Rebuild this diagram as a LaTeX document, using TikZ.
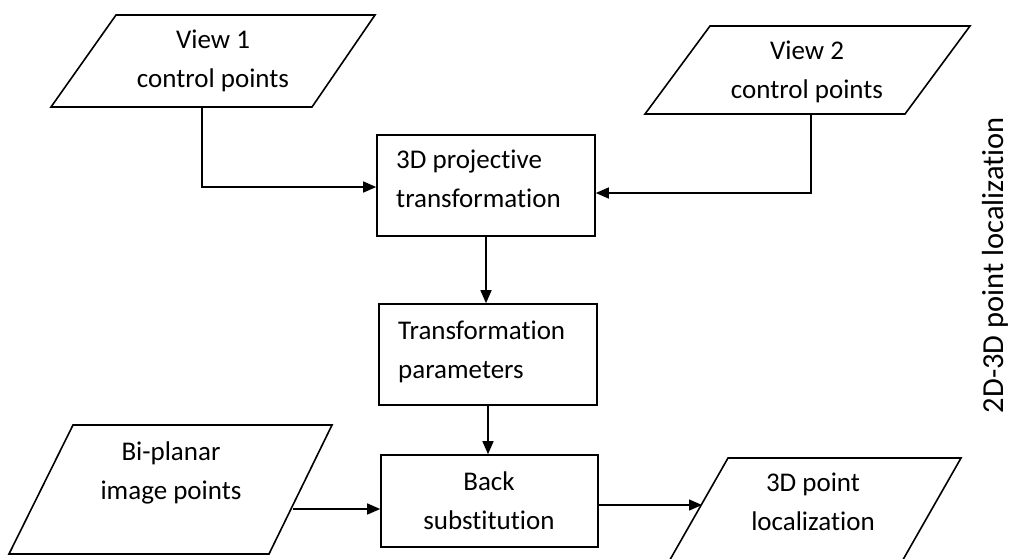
\documentclass[tikz,border=0pt]{standalone}
\usepackage{fontspec}
\setmainfont{Carlito}[Ligatures=NoCommon]
\usetikzlibrary{arrows.meta,calc}
\begin{document}
\begin{tikzpicture}[x=1pt,y=-1pt,
  shapeline/.style={draw=black,line width=1.6pt,line join=miter},
  stepbox/.style={shapeline,rectangle,inner sep=0pt},
  lbl/.style={font=\fontsize{27}{39}\selectfont,inner sep=0pt},
  flow/.style={line width=1.4pt,-{Triangle[length=13pt,width=11pt]}}]
\useasboundingbox (0,0) rectangle (1011,558);

% input parallelograms
\draw[shapeline] (116,15) -- (375,15) -- (312,107) -- (51,107) -- cycle;
\draw[shapeline] (710,26) -- (970,26) -- (905,114) -- (645,114) -- cycle;
\draw[shapeline] (73,425) -- (332,425) -- (269,554) -- (9,554) -- cycle;
\begin{scope}
  \clip (0,0) rectangle (1011,558);
  \draw[shapeline] (728,458) -- (961,458) -- (880,600) -- (647,600) -- cycle;
\end{scope}

% anchor points on the parallelogram edges
\coordinate (v1out) at (202,107);
\coordinate (v2out) at (811,114);
\coordinate (bpout) at (293,509);
\coordinate (locin) at (702,505);

\node[lbl,align=center] (v1) at (213,61) {View 1\\control points};
\node[lbl,align=center] (v2) at (807,72) {View 2\\control points};
\node[lbl,align=center] (bp) at (171,473) {Bi-planar\\image points};
\node[lbl,align=center] (loc) at (813,502) {3D point\\localization};

% processing boxes
\node[stepbox,minimum width=218pt,minimum height=101pt] (proj) at (486,185.5) {};
\node[stepbox,minimum width=218pt,minimum height=101pt] (params) at (488,354.5) {};
\node[stepbox,minimum width=217pt,minimum height=92pt] (back) at (489.5,501) {};

\node[lbl,align=left,anchor=west] (projtxt) at (396,179) {3D projective\\transformation};
\node[lbl,align=left,anchor=west] (paramstxt) at (398,352) {Transformation\\parameters};
\node[lbl,align=center] (backtxt) at (489,500.5) {Back\\substitution};

\node[font=\fontsize{30.5}{36}\selectfont,inner sep=0pt,rotate=90] (side) at (995,265) {2D-3D point localization};

% connectors
\draw[flow] (v1out) |- ($(proj.west)+(0,1.5)$);
\draw[flow] (v2out) |- ($(proj.east)+(0,7.5)$);
\draw[flow] (proj.south) -- (proj.south |- params.north);
\draw[flow] (params.south) -- (params.south |- back.north);
\draw[flow] (bpout) -- (bpout -| back.west);
\draw[flow] ($(back.east)+(0,4)$) -- (locin);
\end{tikzpicture}
\end{document}
